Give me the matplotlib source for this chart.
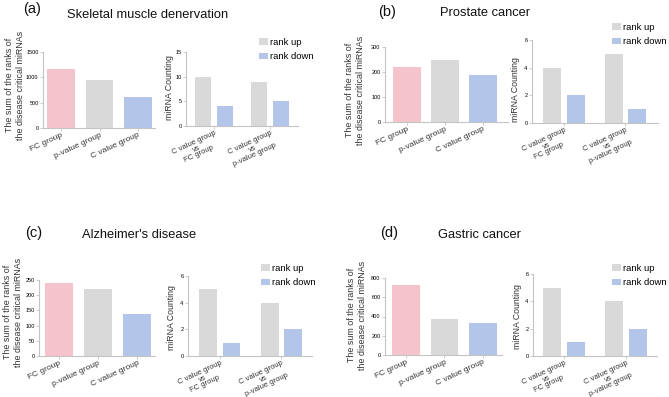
import matplotlib
matplotlib.use("Agg")
import matplotlib.pyplot as plt
import numpy as np

plt.rcParams['font.family'] = ['Liberation Sans', 'DejaVu Sans']

# data
groups = ["FC group", "p-value group", "C value group"]
comparisons = ["C value group\nvs\nFC group", "C value group\nvs\np-value group"]
series_labels = ["rank up", "rank down"]

skeletal_sum = [1170, 940, 605]
prostate_sum = [220, 250, 190]
alzheimer_sum = [240, 220, 138]
gastric_sum = [730, 370, 335]

skeletal_up = [10, 9]
skeletal_down = [4, 5]
prostate_up = [4, 5]
prostate_down = [2, 1]
alzheimer_up = [5, 4]
alzheimer_down = [1, 2]
gastric_up = [5, 4]
gastric_down = [1, 2]

W, H = 669, 397
PINK, GRAY, BLUE = "#F5C3CC", "#D9D9D9", "#B3C5E8"
SPINE = "#C4C4C4"
TXT = "#333333"

fig = plt.figure(figsize=(W / 100, H / 100), dpi=100)


def px_axes(x0, y0, x1, y1):
    return fig.add_axes([x0 / W, 1 - y1 / H, (x1 - x0) / W, (y1 - y0) / H])


def px_text(x, y, s, **kw):
    fig.text(x / W, 1 - y / H, s, **kw)


def style(ax, yticks):
    for s in ["top", "right"]:
        ax.spines[s].set_visible(False)
    for s in ["left", "bottom"]:
        ax.spines[s].set_color(SPINE)
        ax.spines[s].set_linewidth(0.8)
    ax.set_yticks(yticks)
    ax.set_ylim(0, yticks[-1])
    ax.tick_params(axis="y", labelsize=4, length=2, width=0.6, color=SPINE, pad=1.2)
    ax.tick_params(axis="x", labelsize=5.5, length=2, width=0.6, color=SPINE, pad=0.8,
                   labelcolor=TXT)


def left_panel(box, values, yticks, xlim, label_xy):
    ax = px_axes(*box)
    ax.bar(np.arange(3), values, width=0.72, color=[PINK, GRAY, BLUE])
    style(ax, yticks)
    ax.set_xlim(*xlim)
    ax.set_xticks(np.arange(3))
    ax.set_xticklabels(groups, rotation=25, ha="right", rotation_mode="anchor",
                       fontsize=6)
    px_text(*label_xy, "The sum of the ranks of\nthe disease critical miRNAs",
            fontsize=6.4, color=TXT, rotation=90, ha="center", va="center",
            linespacing=1.15, multialignment="center")
    return ax


def right_panel(box, up, down, yticks, xlim, label_xy, legend_xy):
    ax = px_axes(*box)
    x = np.arange(2)
    off = 0.19
    ax.bar(x - off, up, width=0.29, color=GRAY, label=series_labels[0])
    ax.bar(x + off, down, width=0.29, color=BLUE, label=series_labels[1])
    style(ax, yticks)
    ax.set_xlim(*xlim)
    ax.set_xticks(x)
    ax.set_xticklabels(comparisons, rotation=25, ha="right", rotation_mode="anchor",
                       multialignment="center", linespacing=0.85)
    px_text(*label_xy, "miRNA Counting", fontsize=6.3, color=TXT, rotation=90,
            ha="center", va="center")
    ax.legend(loc="upper left", bbox_to_anchor=(legend_xy[0] / W, 1 - legend_xy[1] / H),
              bbox_transform=fig.transFigure, frameon=False, fontsize=6.8,
              borderpad=0, borderaxespad=0, handlelength=0.9, handleheight=0.7,
              handletextpad=0.25, labelspacing=0.55)
    return ax


def panel_title(letter, lx, ly, title, tx, ty):
    px_text(lx, ly, letter, fontsize=10.5, ha="left", va="center", color="#111111")
    px_text(tx, ty, title, fontsize=9.3, ha="left", va="center", color="#111111")


# (a)
panel_title("(a)", 23, 9, "Skeletal muscle denervation", 67, 15)
left_panel((43, 52, 155, 128), skeletal_sum, [0, 500, 1000, 1500], (-0.47, 2.44), (15, 85))
right_panel((186, 52, 298, 126), skeletal_up, skeletal_down, [0, 5, 10, 15],
            (-0.5, 1.5), (170, 88), (259, 38))

# (b)
panel_title("(b)", 378, 12, "Prostate cancer", 440, 13)
left_panel((385, 47, 508, 122), prostate_sum, [0, 100, 200, 300], (-0.58, 2.66), (355, 90))
right_panel((532, 40, 658, 123), prostate_up, prostate_down, [0, 2, 4, 6],
            (-0.52, 1.53), (516, 90), (612, 23))

# (c)
panel_title("(c)", 25, 233, "Alzheimer's disease", 82, 235)
left_panel((39, 280, 155, 356), alzheimer_sum, [0, 50, 100, 150, 200, 250], (-0.5, 2.45),
           (13, 312))
right_panel((188, 276, 312, 356), alzheimer_up, alzheimer_down, [0, 2, 4, 6],
            (-0.52, 1.5), (172, 318), (261, 264))

# (d)
panel_title("(d)", 380, 233, "Gastric cancer", 438, 235)
left_panel((385, 278, 502, 355), gastric_sum, [0, 200, 400, 600, 800], (-0.55, 2.5),
           (357, 315))
right_panel((533, 274, 657, 356), gastric_up, gastric_down, [0, 2, 4, 6],
            (-0.5, 1.5), (518, 317), (612, 264))

fig.savefig("out.png", dpi=100, facecolor="white")
